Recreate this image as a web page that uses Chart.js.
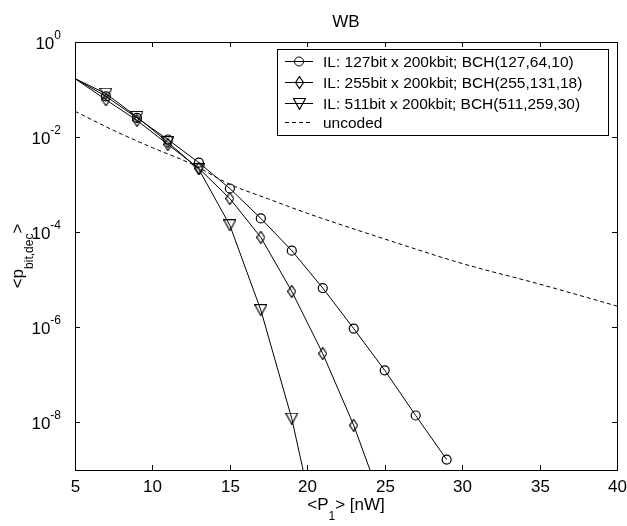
<!DOCTYPE html>
<html>
<head>
<meta charset="utf-8">
<title>WB</title>
<script src="https://cdn.jsdelivr.net/npm/chart.js@4/dist/chart.umd.min.js"></script>
<style>
  html, body { margin: 0; padding: 0; background: #fff; }
  #wrap { width: 627px; height: 526px; }
</style>
</head>
<body>
<div id="wrap"><canvas id="berChart" width="627" height="526"></canvas></div>
<script>
// mean received power <P1> in nW
const powerIL127 = [5, 7, 9, 11, 13, 15, 17, 19, 21, 23, 25, 27, 29];
const powerIL255 = [5, 7, 9, 11, 13, 15, 17, 19, 21, 23, 25];
const powerIL511 = [5, 7, 9, 11, 13, 15, 17, 19, 21];
const powerUncoded = [5, 7.5, 10, 12.5, 15, 17.5, 20, 25, 30, 35, 40];

// decoded bit error probability
const berIL127 = [0.17, 0.072, 0.0253, 0.0089, 0.0029, 8.3e-4, 1.95e-4, 4.1e-5, 6.7e-6, 9.4e-7, 1.25e-7, 1.4e-8, 1.66e-9];
const berIL255 = [0.17, 0.061, 0.0225, 0.0070, 0.0022, 5.1e-4, 7.8e-5, 5.7e-6, 2.8e-7, 8.7e-9, 1.4e-10];
const berIL511 = [0.17, 0.082, 0.0266, 0.0078, 0.0021, 1.4e-4, 2.3e-6, 1.2e-8, 1.3e-11];
const berUncoded = [0.035, 0.0138, 6.0e-3, 2.75e-3, 1.02e-3, 5.0e-4, 2.5e-4, 7.2e-5, 2.2e-5, 8.1e-6, 2.8e-6];

const seriesLabels = [
  'IL: 127bit x 200kbit; BCH(127,64,10)',
  'IL: 255bit x 200kbit; BCH(255,131,18)',
  'IL: 511bit x 200kbit; BCH(511,259,30)',
  'uncoded'
];

const xTicks = [5, 10, 15, 20, 25, 30, 35, 40];
const yTickExps = [0, -2, -4, -6, -8];

const FONT = '"Liberation Sans", Arial, Helvetica, sans-serif';

// hollow marker glyphs
function makeDiamond() {
  const c = document.createElement('canvas');
  c.width = 9; c.height = 13;
  const g = c.getContext('2d');
  g.strokeStyle = '#000'; g.lineWidth = 1.2;
  g.beginPath();
  g.moveTo(4.5, 0.5); g.lineTo(8.5, 6.5); g.lineTo(4.5, 12.5); g.lineTo(0.5, 6.5);
  g.closePath(); g.stroke();
  return c;
}
function makeTriangleDown() {
  const c = document.createElement('canvas');
  c.width = 13; c.height = 12;
  const g = c.getContext('2d');
  g.strokeStyle = '#000'; g.lineWidth = 1.2;
  g.beginPath();
  g.moveTo(0.5, 0.5); g.lineTo(12.5, 0.5); g.lineTo(6.5, 11.5);
  g.closePath(); g.stroke();
  return c;
}
const diamondImg = makeDiamond();
const triangleImg = makeTriangleDown();

const toPoints = (xs, ys) => xs.map((x, i) => ({ x: x, y: ys[i] }));
// no marker on the first sample (x = 5)
const markerRadii = (n, r) => Array.from({ length: n }, (_, i) => (i === 0 ? 0 : r));

function drawSup(ctx, base, exp, xRight, yMid) {
  ctx.font = '17px ' + FONT;
  const wb = ctx.measureText(base).width;
  ctx.font = '12px ' + FONT;
  const we = ctx.measureText(exp).width;
  const x0 = xRight - we - wb;
  ctx.textAlign = 'left';
  ctx.textBaseline = 'alphabetic';
  ctx.font = '17px ' + FONT;
  ctx.fillText(base, x0, yMid + 6.5);
  ctx.font = '12px ' + FONT;
  ctx.fillText(exp, x0 + wb, yMid - 4);
}

const axesPlugin = {
  id: 'axesPlugin',
  afterDraw(chart) {
    const ctx = chart.ctx;
    const a = chart.chartArea;
    const xs = chart.scales.x, ys = chart.scales.y;
    ctx.save();
    ctx.strokeStyle = '#000';
    ctx.fillStyle = '#000';
    ctx.lineWidth = 1;

    // box
    ctx.strokeRect(Math.round(a.left) + 0.5, Math.round(a.top) + 0.5,
      Math.round(a.right - a.left), Math.round(a.bottom - a.top));

    // x ticks
    ctx.font = '17px ' + FONT;
    ctx.textAlign = 'center';
    ctx.textBaseline = 'alphabetic';
    xTicks.forEach(v => {
      const px = Math.round(xs.getPixelForValue(v)) + 0.5;
      ctx.beginPath();
      ctx.moveTo(px, a.bottom); ctx.lineTo(px, a.bottom - 5);
      ctx.moveTo(px, a.top); ctx.lineTo(px, a.top + 5);
      ctx.stroke();
      ctx.fillText(String(v), px, a.bottom + 22);
    });

    // y ticks
    yTickExps.forEach(e => {
      const py = Math.round(ys.getPixelForValue(Math.pow(10, e))) + 0.5;
      ctx.beginPath();
      ctx.moveTo(a.left, py); ctx.lineTo(a.left + 5, py);
      ctx.moveTo(a.right, py); ctx.lineTo(a.right - 5, py);
      ctx.stroke();
      drawSup(ctx, '10', String(e), a.left - 14, py);
    });

    // title
    ctx.font = '17px ' + FONT;
    ctx.textAlign = 'center';
    ctx.fillText('WB', (a.left + a.right) / 2, 27);

    // x label: <P_1> [nW]
    const cx = (a.left + a.right) / 2;
    ctx.font = '17px ' + FONT;
    const p1 = '<P', p2 = '> [nW]';
    const w1 = ctx.measureText(p1).width, w2 = ctx.measureText(p2).width;
    ctx.font = '12px ' + FONT;
    const ws = ctx.measureText('1').width;
    let lx = cx - (w1 + ws + w2) / 2;
    ctx.textAlign = 'left';
    ctx.font = '17px ' + FONT;
    ctx.fillText(p1, lx, 510);
    ctx.font = '12px ' + FONT;
    ctx.fillText('1', lx + w1, 520);
    ctx.font = '17px ' + FONT;
    ctx.fillText(p2, lx + w1 + ws, 510);

    // y label: <p_bit,dec>
    ctx.translate(23, (a.top + a.bottom) / 2);
    ctx.rotate(-Math.PI / 2);
    ctx.font = '17px ' + FONT;
    const q1 = '<p', q2 = '>';
    const v1 = ctx.measureText(q1).width, v2 = ctx.measureText(q2).width;
    ctx.font = '12px ' + FONT;
    const vs = ctx.measureText('bit,dec').width;
    let ly = -(v1 + vs + v2) / 2;
    ctx.font = '17px ' + FONT;
    ctx.fillText(q1, ly, 0);
    ctx.font = '12px ' + FONT;
    ctx.fillText('bit,dec', ly + v1, 10);
    ctx.font = '17px ' + FONT;
    ctx.fillText(q2, ly + v1 + vs, 0);
    ctx.restore();

    // legend box
    ctx.save();
    const bx = 277.5, by = 49.5, bw = 331, bh = 86;
    ctx.fillStyle = '#fff';
    ctx.fillRect(bx, by, bw, bh);
    ctx.strokeStyle = '#000';
    ctx.lineWidth = 1;
    ctx.strokeRect(bx, by, bw, bh);
    const rows = [61.5, 82.5, 103.5, 122.5];
    chart.data.datasets.forEach((ds, i) => {
      const ry = rows[i];
      ctx.strokeStyle = '#000';
      ctx.setLineDash(ds.borderDash || []);
      ctx.beginPath();
      ctx.moveTo(285, ry); ctx.lineTo(313, ry);
      ctx.stroke();
      ctx.setLineDash([]);
      if (ds.legendMarker === 'circle') {
        ctx.beginPath();
        ctx.arc(299, ry, 4.5, 0, Math.PI * 2);
        ctx.stroke();
      } else if (ds.legendMarker) {
        const img = ds.legendMarker;
        ctx.drawImage(img, Math.round(299 - img.width / 2), Math.round(ry - img.height / 2));
      }
      ctx.fillStyle = '#000';
      ctx.font = '15.5px ' + FONT;
      ctx.textAlign = 'left';
      ctx.textBaseline = 'middle';
      ctx.fillText(ds.label, 323, ry + 1);
    });
    ctx.restore();
  }
};

new Chart(document.getElementById('berChart'), {
  type: 'line',
  data: {
    datasets: [
      {
        label: seriesLabels[0],
        data: toPoints(powerIL127, berIL127),
        borderColor: '#000', borderWidth: 1,
        pointStyle: 'circle', pointRadius: markerRadii(powerIL127.length, 4.5),
        pointBorderColor: '#000', pointBackgroundColor: 'rgba(0,0,0,0)', pointBorderWidth: 1.2,
        legendMarker: 'circle'
      },
      {
        label: seriesLabels[1],
        data: toPoints(powerIL255, berIL255),
        borderColor: '#000', borderWidth: 1,
        pointStyle: diamondImg, pointRadius: markerRadii(powerIL255.length, 4),
        legendMarker: diamondImg
      },
      {
        label: seriesLabels[2],
        data: toPoints(powerIL511, berIL511),
        borderColor: '#000', borderWidth: 1,
        pointStyle: triangleImg, pointRadius: markerRadii(powerIL511.length, 4),
        legendMarker: triangleImg
      },
      {
        label: seriesLabels[3],
        data: toPoints(powerUncoded, berUncoded),
        borderColor: '#000', borderWidth: 1, borderDash: [4, 3],
        pointRadius: 0,
        cubicInterpolationMode: 'monotone'
      }
    ]
  },
  options: {
    responsive: false,
    animation: false,
    events: [],
    layout: { padding: { left: 75, top: 42, right: 10, bottom: 56 } },
    plugins: { legend: { display: false }, tooltip: { enabled: false } },
    scales: {
      x: { type: 'linear', min: 5, max: 40, display: false },
      y: { type: 'logarithmic', min: 1e-9, max: 1, display: false }
    }
  },
  plugins: [axesPlugin]
});
</script>
</body>
</html>
